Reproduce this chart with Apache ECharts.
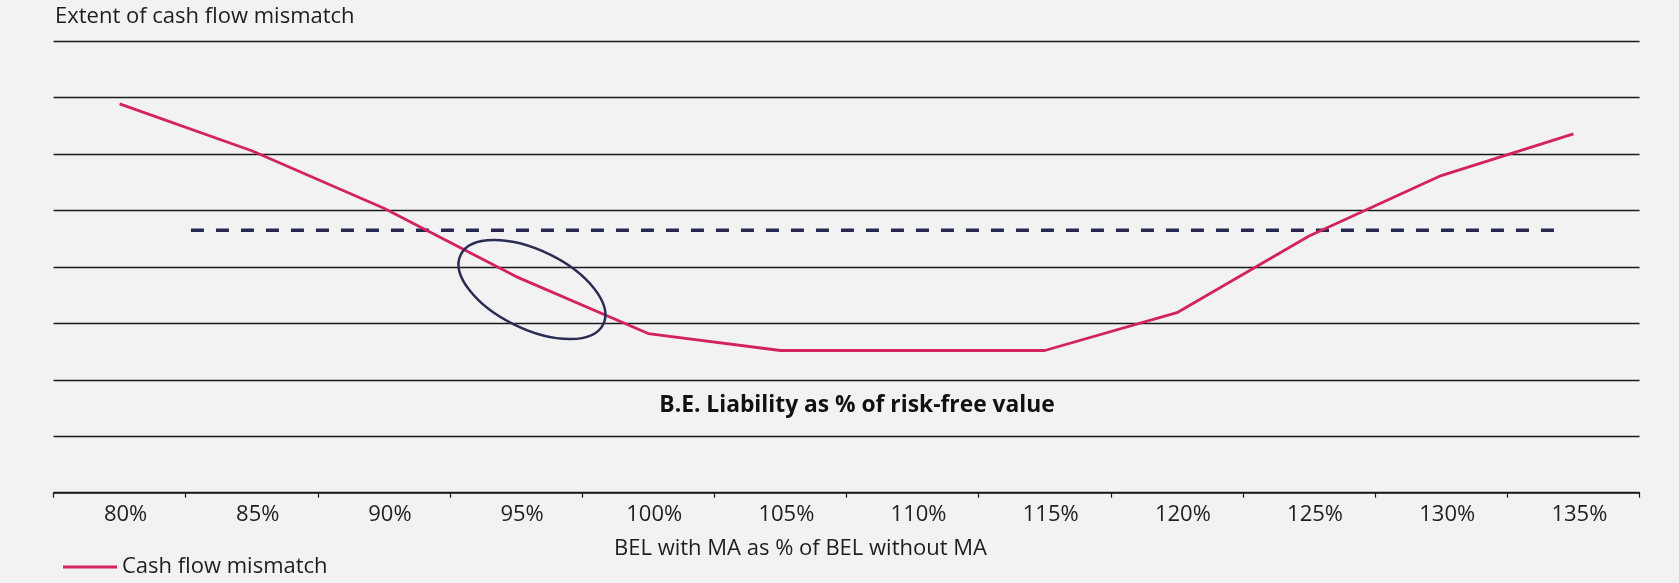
<!DOCTYPE html>
<html>
<head>
<meta charset="utf-8">
<script src="https://cdn.jsdelivr.net/npm/echarts@6/dist/echarts.min.js"></script>
<style>
  html, body { margin: 0; padding: 0; background: #f2f2f2; }
  #main { width: 1679px; height: 583px; }
</style>
</head>
<body>
<div id="main"></div>
<script>
// x轴分类
var categories = ['80%', '85%', '90%', '95%', '100%', '105%', '110%', '115%', '120%', '125%', '130%', '135%'];
// 现金流错配程度 (相对刻度 0-8)
var mismatch = [6.89, 6.06, 5.04, 3.83, 2.82, 2.52, 2.52, 2.52, 3.19, 4.55, 5.62, 6.36];
// 虚线阈值: [起点类目位置, 终点类目位置], 高度
var thresholdSpan = [0.54, 10.89];
var thresholdLevel = 4.65;
// 椭圆标注中心 [类目位置, 值]
var ellipseCenter = [3.12, 3.60];

var chart = echarts.init(document.getElementById('main'));
var font = '"Open Sans", sans-serif';
var ink = '#1e1e1e';

var option = {
  backgroundColor: '#f2f2f2',
  animation: false,
  textStyle: { fontFamily: font },
  title: {
    text: 'Extent of cash flow mismatch',
    left: 50,
    top: 1,
    textStyle: { fontFamily: font, fontSize: 22, fontWeight: 'normal', color: ink }
  },
  legend: {
    left: 58,
    top: 551,
    icon: 'rect',
    itemWidth: 54,
    itemHeight: 3,
    itemGap: 10,
    data: ['Cash flow mismatch'],
    textStyle: { fontFamily: font, fontSize: 22, color: ink }
  },
  grid: { left: 53.5, right: 39.5, top: 41.3, bottom: 90.3, containLabel: false },
  xAxis: [
    {
      type: 'category',
      data: categories,
      boundaryGap: true,
      axisLine: { lineStyle: { color: '#1a1a1a', width: 1.5 } },
      axisTick: { show: true, length: 5, lineStyle: { color: '#1a1a1a', width: 1.2 } },
      axisLabel: { fontFamily: font, fontSize: 22, color: ink, margin: 11, padding: [0, 0, 0, 12] },
      splitLine: { show: false },
      name: 'BEL with MA as % of BEL without MA',
      nameLocation: 'middle',
      nameGap: 45,
      nameTextStyle: { fontFamily: font, fontSize: 22, color: ink, padding: [0, 92, 0, 0] }
    },
    {
      // 隐藏的数值轴, 用于虚线和椭圆
      type: 'value',
      min: -0.5,
      max: 11.5,
      show: false
    }
  ],
  yAxis: {
    type: 'value',
    min: 0,
    max: 8,
    interval: 1,
    axisLine: { show: false },
    axisTick: { show: false },
    axisLabel: { show: false },
    splitLine: { show: true, lineStyle: { color: '#1a1a1a', width: 1.4 } }
  },
  series: [
    {
      name: 'Cash flow mismatch',
      type: 'line',
      data: mismatch,
      showSymbol: false,
      symbol: 'none',
      itemStyle: { color: '#d3235f' },
      lineStyle: { color: '#d3235f', width: 2.8 },
      z: 3
    },
    {
      name: 'threshold',
      type: 'line',
      xAxisIndex: 1,
      data: [[thresholdSpan[0], thresholdLevel], [thresholdSpan[1], thresholdLevel]],
      showSymbol: false,
      symbol: 'none',
      lineStyle: { color: '#27284f', width: 3.5, type: [13, 12] },
      z: 2
    },
    {
      name: 'ellipse',
      type: 'custom',
      xAxisIndex: 1,
      data: [ellipseCenter],
      renderItem: function (params, api) {
        var p = api.coord([api.value(0), api.value(1)]);
        return {
          type: 'ellipse',
          x: p[0],
          y: p[1],
          rotation: -0.452,
          shape: { cx: 0, cy: 0, rx: 79.3, ry: 39.3 },
          style: { fill: 'none', stroke: '#2b2d55', lineWidth: 2.5 }
        };
      },
      z: 4
    }
  ],
  // 图内说明文字
  graphic: [
    {
      type: 'text',
      x: 857,
      y: 406,
      style: {
        text: 'B.E. Liability as % of risk-free value',
        font: 'bold 22.8px "Open Sans", sans-serif',
        fill: '#111',
        align: 'center',
        verticalAlign: 'middle'
      }
    }
  ]
};
chart.setOption(option);

window.addEventListener('resize', function () {
  chart.resize();
});
</script>
</body>
</html>
